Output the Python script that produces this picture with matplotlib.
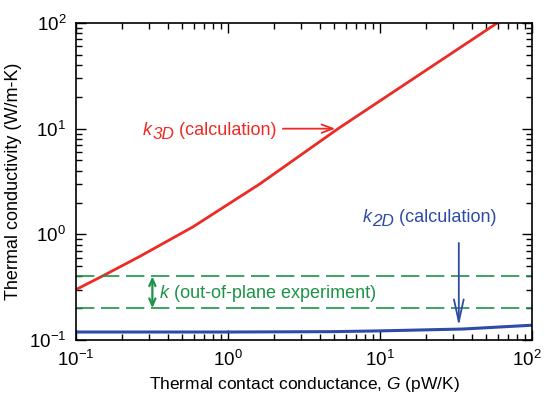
import math
import matplotlib
matplotlib.use("Agg")
import matplotlib.pyplot as plt
from matplotlib.ticker import LogLocator, FuncFormatter, NullFormatter
from matplotlib.transforms import offset_copy, ScaledTranslation

plt.rcParams['font.family'] = ['Liberation Sans', 'DejaVu Sans']
plt.rcParams['mathtext.fontset'] = 'custom'
plt.rcParams['mathtext.rm'] = 'Liberation Sans'
plt.rcParams['mathtext.it'] = 'Liberation Sans:italic'
plt.rcParams['mathtext.default'] = 'regular'
plt.rcParams['axes.unicode_minus'] = False

# Data
G_3d = [0.1, 0.148, 0.264, 0.59, 1.62, 5.3, 59]
k_3d = [0.30, 0.40, 0.62, 1.18, 3.0, 10, 100]
G_2d = [0.1, 1, 5, 10, 35, 100]
k_2d = [0.119, 0.119, 0.120, 0.122, 0.127, 0.138]
k_exp = [0.4, 0.2]

RED = '#ee2a24'
BLUE = '#2e4ca6'
GREEN = '#1b9447'

fig = plt.figure(figsize=(5.45, 3.99), dpi=100)
ax = fig.add_axes([76/545, 1-340/399, (532-76)/545, (340-23)/399])

ax.plot(G_3d, k_3d, color=RED, lw=2.0)
ax.plot(G_2d, k_2d, color=BLUE, lw=2.2)
for v in k_exp:
    ax.axhline(v, color=GREEN, lw=1.2, dashes=(11, 4))

ax.set_xscale('log')
ax.set_yscale('log')
ax.set_xlim(0.1, 100)
ax.set_ylim(0.1, 100)

fmt = FuncFormatter(lambda v, p: '10$^{%d}$' % round(math.log10(v)))
for axis in (ax.xaxis, ax.yaxis):
    axis.set_major_locator(LogLocator(base=10, numticks=10))
    axis.set_minor_locator(LogLocator(base=10, subs=range(2, 10), numticks=10))
    axis.set_major_formatter(fmt)
    axis.set_minor_formatter(NullFormatter())

ax.tick_params(which='both', direction='in', top=True, right=True, width=1.0, labelsize=13.5)
ax.tick_params(which='major', length=7, pad=7)
ax.tick_params(which='minor', length=4)
for s in ax.spines.values():
    s.set_linewidth(1.2)

ax.set_xlabel('Thermal contact conductance, $\\mathit{G}$ (pW/K)', fontsize=12.5, labelpad=4)
ax.set_ylabel('Thermal conductivity (W/m-K)', fontsize=13, labelpad=5)

fig.canvas.draw()
renderer = fig.canvas.get_renderer()

# nudge the rightmost x tick label so it stays inside the canvas
for t in ax.xaxis.get_major_ticks():
    if abs(t.get_loc() - 100) < 1e-6:
        t.label1.set_transform(t.label1.get_transform() +
                               ScaledTranslation(-5 / 100, 0, fig.dpi_scale_trans))


def label_with_sub(x, y, sym, sub, rest, color, size):
    t1 = ax.text(x, y, sym, color=color, fontsize=size, style='italic', ha='left', va='baseline')
    w1 = t1.get_window_extent(renderer).width * 72 / fig.dpi
    tr = offset_copy(ax.transData, fig=fig, x=w1 + 0.3, y=-3.0, units='points')
    t2 = ax.text(x, y, sub, color=color, fontsize=size * 0.95, style='italic', ha='left',
                 va='baseline', transform=tr)
    w2 = t2.get_window_extent(renderer).width * 72 / fig.dpi if sub else 0
    tr2 = offset_copy(ax.transData, fig=fig, x=w1 + 0.3 + w2, y=0, units='points')
    ax.text(x, y, rest, color=color, fontsize=size, ha='left', va='baseline', transform=tr2)


# k3D annotation
label_with_sub(0.275, 8.75, 'k', '3D', ' (calculation)', RED, 13)
ax.annotate('', xy=(5.3, 10), xytext=(2.2, 10),
            arrowprops=dict(arrowstyle='->,head_length=0.8,head_width=0.3', color=RED, lw=1.3))

# k2D annotation
label_with_sub(7.7, 1.3, 'k', '2D', ' (calculation)', BLUE, 13)
ax.annotate('', xy=(33, 0.128), xytext=(33, 0.88),
            arrowprops=dict(arrowstyle='->,head_length=1.6,head_width=0.35', color=BLUE, lw=1.3))

# experiment annotation
ax.annotate('', xy=(0.318, 0.4), xytext=(0.318, 0.2),
            arrowprops=dict(arrowstyle='<->,head_length=0.5,head_width=0.22', color=GREEN, lw=1.6,
                            shrinkA=0, shrinkB=0))
label_with_sub(0.355, 0.252, 'k', '', ' (out-of-plane experiment)', GREEN, 13)

fig.savefig('out.png', dpi=100)
